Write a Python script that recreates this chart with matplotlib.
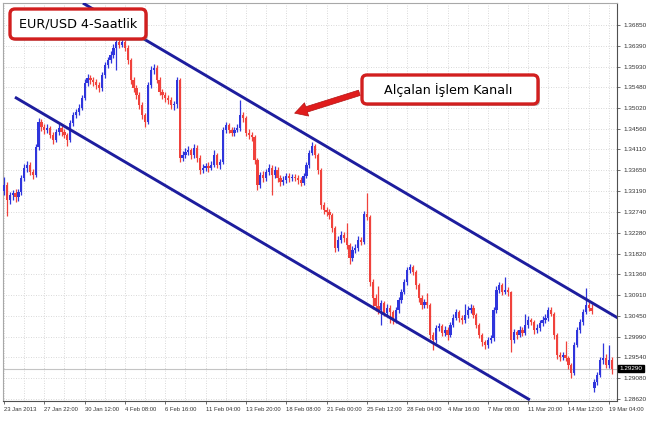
import matplotlib
matplotlib.use("Agg")
import matplotlib.pyplot as plt
import numpy as np
from matplotlib.patches import FancyBboxPatch, FancyArrowPatch
from matplotlib.transforms import blended_transform_factory

# ---------------- data (EUR/USD, 4-hour bars) ----------------
opens = [
    1.3320, 1.3333, 1.3300, 1.3311, 1.3315, 1.3306, 1.3317, 1.3348, 1.3370, 1.3377,
    1.3361, 1.3355, 1.3416, 1.3471, 1.3460, 1.3454, 1.3458, 1.3443, 1.3432, 1.3449,
    1.3458, 1.3449, 1.3443, 1.3432, 1.3469, 1.3487, 1.3493, 1.3502, 1.3524, 1.3557,
    1.3568, 1.3564, 1.3559, 1.3553, 1.3546, 1.3575, 1.3597, 1.3608, 1.3619, 1.3634,
    1.3647, 1.3641, 1.3647, 1.3634, 1.3608, 1.3564, 1.3546, 1.3531, 1.3509, 1.3487,
    1.3471, 1.3553, 1.3586, 1.3590, 1.3564, 1.3537, 1.3531, 1.3524, 1.3520, 1.3509,
    1.3512, 1.3564, 1.3392, 1.3399, 1.3405, 1.3410, 1.3399, 1.3414, 1.3392, 1.3366,
    1.3370, 1.3375, 1.3370, 1.3377, 1.3399, 1.3377, 1.3383, 1.3454, 1.3465, 1.3454,
    1.3447, 1.3454, 1.3458, 1.3487, 1.3480, 1.3447, 1.3443, 1.3438, 1.3388, 1.3333,
    1.3355, 1.3348, 1.3361, 1.3370, 1.3355, 1.3366, 1.3348, 1.3339, 1.3344, 1.3353,
    1.3348, 1.3350, 1.3348, 1.3344, 1.3337, 1.3353, 1.3377, 1.3403, 1.3419, 1.3399,
    1.3366, 1.3289, 1.3278, 1.3273, 1.3267, 1.3238, 1.3194, 1.3212, 1.3223, 1.3216,
    1.3201, 1.3172, 1.3190, 1.3194, 1.3212, 1.3207, 1.3270, 1.3262, 1.3119, 1.3084,
    1.3067, 1.3058, 1.3073, 1.3051, 1.3062, 1.3053, 1.3036, 1.3058, 1.3080, 1.3097,
    1.3119, 1.3146, 1.3152, 1.3141, 1.3113, 1.3084, 1.3069, 1.3075, 1.3069, 1.3003,
    1.2992, 1.3018, 1.3023, 1.3007, 1.3014, 1.3003, 1.3025, 1.3040, 1.3053, 1.3040,
    1.3036, 1.3047, 1.3058, 1.3062, 1.3047, 1.3025, 1.3003, 1.2987, 1.2981, 1.2992,
    1.2996, 1.3058, 1.3102, 1.3113, 1.3097, 1.3102, 1.3097, 1.2992, 1.3009, 1.3003,
    1.3014, 1.3007, 1.3025, 1.3036, 1.3031, 1.3014, 1.3018, 1.3029, 1.3036, 1.3040,
    1.3058, 1.3050, 1.3003, 1.2959, 1.2954, 1.2959, 1.2952, 1.2937, 1.2919, 1.2981,
    1.3014, 1.3031, 1.3053, 1.3069, 1.3062, 1.2886, 1.2899, 1.2915, 1.2948, 1.2952,
    1.2937, 1.2948,
]
highs = [
    1.3350, 1.3340, 1.3318, 1.3322, 1.3324, 1.3325, 1.3355, 1.3378, 1.3386, 1.3384,
    1.3368, 1.3422, 1.3480, 1.3478, 1.3468, 1.3466, 1.3463, 1.3450, 1.3455, 1.3466,
    1.3463, 1.3456, 1.3448, 1.3475, 1.3494, 1.3500, 1.3510, 1.3531, 1.3566, 1.3577,
    1.3575, 1.3570, 1.3566, 1.3560, 1.3582, 1.3604, 1.3615, 1.3628, 1.3642, 1.3655,
    1.3656, 1.3654, 1.3652, 1.3640, 1.3613, 1.3570, 1.3553, 1.3537, 1.3515, 1.3492,
    1.3560, 1.3594, 1.3598, 1.3596, 1.3570, 1.3545, 1.3538, 1.3530, 1.3526, 1.3518,
    1.3571, 1.3568, 1.3408, 1.3414, 1.3418, 1.3415, 1.3422, 1.3420, 1.3398, 1.3378,
    1.3382, 1.3384, 1.3386, 1.3410, 1.3404, 1.3390, 1.3460, 1.3472, 1.3470, 1.3460,
    1.3461, 1.3466, 1.3520, 1.3494, 1.3485, 1.3455, 1.3450, 1.3442, 1.3392, 1.3362,
    1.3364, 1.3368, 1.3378, 1.3376, 1.3374, 1.3372, 1.3355, 1.3352, 1.3360, 1.3360,
    1.3358, 1.3357, 1.3355, 1.3350, 1.3360, 1.3384, 1.3410, 1.3428, 1.3424, 1.3404,
    1.3370, 1.3295, 1.3284, 1.3280, 1.3272, 1.3243, 1.3220, 1.3232, 1.3230, 1.3250,
    1.3206, 1.3198, 1.3202, 1.3220, 1.3218, 1.3276, 1.3315, 1.3266, 1.3125, 1.3092,
    1.3110, 1.3080, 1.3078, 1.3070, 1.3068, 1.3058, 1.3064, 1.3087, 1.3104, 1.3126,
    1.3152, 1.3160, 1.3157, 1.3146, 1.3118, 1.3090, 1.3082, 1.3096, 1.3074, 1.3010,
    1.3025, 1.3030, 1.3028, 1.3022, 1.3020, 1.3032, 1.3048, 1.3060, 1.3058, 1.3046,
    1.3070, 1.3066, 1.3070, 1.3068, 1.3052, 1.3030, 1.3008, 1.2992, 1.2999, 1.3003,
    1.3064, 1.3110, 1.3120, 1.3118, 1.3131, 1.3108, 1.3100, 1.3016, 1.3014, 1.3022,
    1.3020, 1.3050, 1.3044, 1.3041, 1.3036, 1.3026, 1.3036, 1.3044, 1.3048, 1.3064,
    1.3064, 1.3054, 1.3008, 1.2966, 1.2965, 1.2990, 1.2957, 1.2942, 1.2988, 1.3020,
    1.3038, 1.3060, 1.3106, 1.3075, 1.3070, 1.2905, 1.2922, 1.2955, 1.2985, 1.2960,
    1.2980, 1.2955,
]
lows = [
    1.3310, 1.3265, 1.3292, 1.3300, 1.3296, 1.3298, 1.3310, 1.3342, 1.3362, 1.3354,
    1.3346, 1.3350, 1.3410, 1.3452, 1.3446, 1.3448, 1.3436, 1.3424, 1.3428, 1.3442,
    1.3441, 1.3436, 1.3418, 1.3428, 1.3462, 1.3480, 1.3486, 1.3497, 1.3519, 1.3550,
    1.3556, 1.3551, 1.3545, 1.3538, 1.3540, 1.3569, 1.3590, 1.3601, 1.3612, 1.3586,
    1.3634, 1.3636, 1.3627, 1.3600, 1.3556, 1.3538, 1.3523, 1.3500, 1.3478, 1.3460,
    1.3466, 1.3547, 1.3578, 1.3557, 1.3530, 1.3522, 1.3516, 1.3510, 1.3500, 1.3498,
    1.3503, 1.3384, 1.3385, 1.3392, 1.3398, 1.3390, 1.3393, 1.3383, 1.3358, 1.3360,
    1.3364, 1.3362, 1.3365, 1.3372, 1.3370, 1.3368, 1.3378, 1.3448, 1.3447, 1.3440,
    1.3441, 1.3449, 1.3452, 1.3472, 1.3440, 1.3434, 1.3430, 1.3380, 1.3322, 1.3327,
    1.3340, 1.3342, 1.3355, 1.3310, 1.3348, 1.3340, 1.3331, 1.3333, 1.3338, 1.3340,
    1.3342, 1.3341, 1.3336, 1.3330, 1.3332, 1.3348, 1.3371, 1.3398, 1.3392, 1.3358,
    1.3280, 1.3270, 1.3265, 1.3258, 1.3230, 1.3185, 1.3188, 1.3206, 1.3208, 1.3193,
    1.3160, 1.3165, 1.3184, 1.3188, 1.3200, 1.3202, 1.3255, 1.3110, 1.3060, 1.3055,
    1.3048, 1.3025, 1.3044, 1.3045, 1.3030, 1.3028, 1.3030, 1.3052, 1.3074, 1.3092,
    1.3113, 1.3140, 1.3134, 1.3105, 1.3076, 1.3060, 1.3062, 1.3062, 1.2995, 1.2970,
    1.2986, 1.3012, 1.3000, 1.3000, 1.2992, 1.2998, 1.3020, 1.3035, 1.3032, 1.3028,
    1.3030, 1.3040, 1.3052, 1.3040, 1.3018, 1.2996, 1.2978, 1.2972, 1.2975, 1.2986,
    1.2990, 1.3052, 1.3096, 1.3090, 1.3092, 1.3088, 1.2965, 1.2985, 1.2995, 1.2998,
    1.3000, 1.3002, 1.3018, 1.3024, 1.3006, 1.3008, 1.3012, 1.3022, 1.3030, 1.3034,
    1.3044, 1.2995, 1.2950, 1.2946, 1.2948, 1.2945, 1.2928, 1.2908, 1.2914, 1.2976,
    1.3008, 1.3025, 1.3048, 1.3055, 1.3050, 1.2878, 1.2892, 1.2910, 1.2940, 1.2930,
    1.2930, 1.2918,
]
closes = [
    1.3333, 1.3300, 1.3311, 1.3315, 1.3306, 1.3317, 1.3348, 1.3370, 1.3377, 1.3361,
    1.3355, 1.3416, 1.3471, 1.3460, 1.3454, 1.3458, 1.3443, 1.3432, 1.3449, 1.3458,
    1.3449, 1.3443, 1.3432, 1.3469, 1.3487, 1.3493, 1.3502, 1.3524, 1.3557, 1.3568,
    1.3564, 1.3559, 1.3553, 1.3546, 1.3575, 1.3597, 1.3608, 1.3619, 1.3634, 1.3647,
    1.3641, 1.3647, 1.3634, 1.3608, 1.3564, 1.3546, 1.3531, 1.3509, 1.3487, 1.3471,
    1.3553, 1.3586, 1.3590, 1.3564, 1.3537, 1.3531, 1.3524, 1.3520, 1.3509, 1.3512,
    1.3564, 1.3392, 1.3399, 1.3405, 1.3410, 1.3399, 1.3414, 1.3392, 1.3366, 1.3370,
    1.3375, 1.3370, 1.3377, 1.3399, 1.3377, 1.3383, 1.3454, 1.3465, 1.3454, 1.3447,
    1.3454, 1.3458, 1.3487, 1.3480, 1.3447, 1.3443, 1.3438, 1.3388, 1.3333, 1.3355,
    1.3348, 1.3361, 1.3370, 1.3355, 1.3366, 1.3348, 1.3339, 1.3344, 1.3353, 1.3348,
    1.3350, 1.3348, 1.3344, 1.3337, 1.3353, 1.3377, 1.3403, 1.3419, 1.3399, 1.3366,
    1.3289, 1.3278, 1.3273, 1.3267, 1.3238, 1.3194, 1.3212, 1.3223, 1.3216, 1.3201,
    1.3172, 1.3190, 1.3194, 1.3212, 1.3207, 1.3270, 1.3262, 1.3119, 1.3084, 1.3067,
    1.3058, 1.3073, 1.3051, 1.3062, 1.3053, 1.3036, 1.3058, 1.3080, 1.3097, 1.3119,
    1.3146, 1.3152, 1.3141, 1.3113, 1.3084, 1.3069, 1.3075, 1.3069, 1.3003, 1.2992,
    1.3018, 1.3023, 1.3007, 1.3014, 1.3003, 1.3025, 1.3040, 1.3053, 1.3040, 1.3036,
    1.3047, 1.3058, 1.3062, 1.3047, 1.3025, 1.3003, 1.2987, 1.2981, 1.2992, 1.2996,
    1.3058, 1.3102, 1.3113, 1.3097, 1.3102, 1.3097, 1.2992, 1.3009, 1.3003, 1.3014,
    1.3007, 1.3025, 1.3036, 1.3031, 1.3014, 1.3018, 1.3029, 1.3036, 1.3040, 1.3058,
    1.3050, 1.3003, 1.2959, 1.2954, 1.2959, 1.2952, 1.2937, 1.2919, 1.2981, 1.3014,
    1.3031, 1.3053, 1.3069, 1.3062, 1.3056, 1.2899, 1.2915, 1.2948, 1.2952, 1.2937,
    1.2948, 1.2929,
]

x_tick_labels = [
    "23 Jan 2013", "27 Jan 22:00", "30 Jan 12:00", "4 Feb 08:00", "6 Feb 16:00",
    "11 Feb 04:00", "13 Feb 20:00", "18 Feb 08:00", "21 Feb 00:00", "25 Feb 12:00",
    "28 Feb 04:00", "4 Mar 16:00", "7 Mar 08:00", "11 Mar 20:00", "14 Mar 12:00",
    "19 Mar 04:00",
]
bars_per_label = 14
bars_per_grid = 7
y_ticks = [1.36850, 1.36390, 1.35930, 1.35480, 1.35020, 1.34560, 1.34110, 1.33650,
           1.33190, 1.32740, 1.32280, 1.31820, 1.31360, 1.30910, 1.30450, 1.29990,
           1.29540, 1.29080, 1.28620]
last_price = 1.29290

channel_upper_x = [27.4, 213.2]
channel_upper_y = [1.3733, 1.3040]
channel_lower_x = [3.8, 182.6]
channel_lower_y = [1.3526, 1.2860]

title_text = "EUR/USD 4-Saatlik"
channel_text = "Alçalan İşlem Kanalı"

# ---------------- styling ----------------
BULL = "#2f35dc"
BEAR = "#f0423c"
CHANNEL = "#1d1d9e"
BOX_EDGE = "#d21f1f"

W, H = 653, 421
fig = plt.figure(figsize=(W / 100, H / 100), dpi=100, facecolor="white")
ax = fig.add_axes([3 / W, 1 - 401 / H, 614 / W, 398 / H])
ax.set_facecolor("white")

n = len(closes)
xs = np.arange(n)
o = np.array(opens)
c = np.array(closes)
hi = np.array(highs)
lo = np.array(lows)
cols = np.where(c >= o, BULL, BEAR)

ax.vlines(xs, lo, hi, colors=cols, lw=0.9, zorder=3)
ax.bar(xs, np.maximum(np.abs(c - o), 0.00006), bottom=np.minimum(o, c),
       width=0.78, color=cols, lw=0, zorder=3)

# current price line
ax.axhline(last_price, color="#c4c4c4", lw=0.8, zorder=1)

# channel lines
ax.plot(channel_upper_x, channel_upper_y, color=CHANNEL, lw=2.1,
        solid_capstyle="butt", zorder=5)
ax.plot(channel_lower_x, channel_lower_y, color=CHANNEL, lw=2.1,
        solid_capstyle="butt", zorder=5)

ax.set_xlim(-0.35, 212.85)
ax.set_ylim(1.28576, 1.37332)

# x axis
ax.set_xticks(np.arange(len(x_tick_labels)) * bars_per_label)
ax.set_xticklabels(x_tick_labels, fontsize=4.2, family="Liberation Sans",
                   color="#333333", ha="left")
ax.set_xticks(np.arange(0, n + 1, bars_per_grid), minor=True)
ax.tick_params(axis="x", which="major", length=2.5, width=0.6, pad=1.5,
               color="#555555")
ax.tick_params(axis="x", which="minor", length=0)

# y axis
ax.yaxis.tick_right()
ax.set_yticks(y_ticks)
ax.set_yticklabels([f"{v:.5f}" for v in y_ticks], fontsize=4.6,
                   family="Liberation Sans", color="#333333")
ax.tick_params(axis="y", length=2.5, width=0.6, pad=2, color="#555555")

ax.grid(which="both", color="#cdcdcd", lw=0.6, ls=(0, (1, 2)), zorder=0)
ax.set_axisbelow(True)

for side in ("left", "top"):
    ax.spines[side].set_color("#a8a8a8")
    ax.spines[side].set_linewidth(0.8)
for side in ("right", "bottom"):
    ax.spines[side].set_color("#505050")
    ax.spines[side].set_linewidth(0.8)

# current price label
tr = blended_transform_factory(ax.transAxes, ax.transData)
ax.text(1.004, last_price, f"{last_price:.5f}", transform=tr, ha="left",
        va="center", fontsize=4.6, family="Liberation Sans", color="white",
        bbox=dict(boxstyle="square,pad=0.2", fc="black", ec="black"),
        clip_on=False, zorder=6)

# ---------------- annotations (figure pixel layout) ----------------
T = fig.dpi_scale_trans


def add_box(x0, y_top, w, h, text, tx, ty):
    shadow = FancyBboxPatch(((x0 + 2) / 100, (H - y_top - h - 2) / 100), w / 100, h / 100,
                            boxstyle="round,pad=0,rounding_size=0.05",
                            transform=T, fc="#6e6e6e", ec="none", alpha=0.45,
                            zorder=8)
    box = FancyBboxPatch((x0 / 100, (H - y_top - h) / 100), w / 100, h / 100,
                         boxstyle="round,pad=0,rounding_size=0.05",
                         transform=T, fc="white", ec=BOX_EDGE, lw=2.4, zorder=9)
    fig.add_artist(shadow)
    fig.add_artist(box)
    fig.text(tx / W, 1 - ty / H, text, ha="center", va="center", fontsize=9.2,
             family="DejaVu Sans", color="black", zorder=10)


add_box(10, 9, 136, 30, title_text, 78, 24)
add_box(362, 75, 176, 29, channel_text, 448, 90)

arrow = FancyArrowPatch((362 / 100, (H - 92) / 100), (292 / 100, (H - 114) / 100),
                        arrowstyle="simple,head_length=0.9,head_width=1.0,tail_width=0.4",
                        mutation_scale=10, transform=T, fc="#e01c1c",
                        ec="#b31212", lw=0.5, zorder=9)
fig.add_artist(arrow)

fig.savefig("out.png", dpi=100, facecolor="white")
